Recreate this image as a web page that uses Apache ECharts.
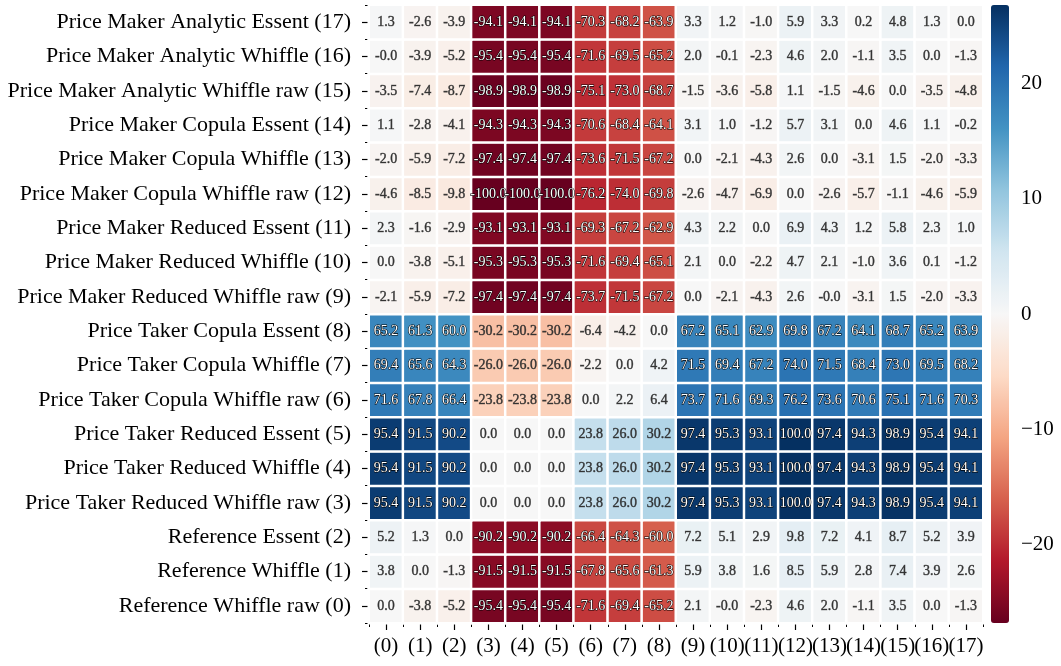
<!DOCTYPE html>
<html>
<head>
<meta charset="utf-8">
<script src="https://cdn.jsdelivr.net/npm/echarts@6/dist/echarts.min.js"></script>
<style>
  html, body { margin: 0; padding: 0; background: #ffffff; }
  #chart { width: 1061px; height: 666px; }
</style>
</head>
<body>
<div id="chart"></div>
<script>
// Column categories (scenario index)
const columnLabels = ['(0)', '(1)', '(2)', '(3)', '(4)', '(5)', '(6)', '(7)', '(8)',
  '(9)', '(10)', '(11)', '(12)', '(13)', '(14)', '(15)', '(16)', '(17)'];

// Row categories, bottom to top
const rowLabels = [
  'Reference Whiffle raw (0)',
  'Reference Whiffle (1)',
  'Reference Essent (2)',
  'Price Taker Reduced Whiffle raw (3)',
  'Price Taker Reduced Whiffle (4)',
  'Price Taker Reduced Essent (5)',
  'Price Taker Copula Whiffle raw (6)',
  'Price Taker Copula Whiffle (7)',
  'Price Taker Copula Essent (8)',
  'Price Maker Reduced Whiffle raw (9)',
  'Price Maker Reduced Whiffle (10)',
  'Price Maker Reduced Essent (11)',
  'Price Maker Copula Whiffle raw (12)',
  'Price Maker Copula Whiffle (13)',
  'Price Maker Copula Essent (14)',
  'Price Maker Analytic Whiffle raw (15)',
  'Price Maker Analytic Whiffle (16)',
  'Price Maker Analytic Essent (17)'
];

// Relative differences (%) per row, columns (0)..(17)
const referenceWhiffleRaw = [0.0, -3.8, -5.2, -95.4, -95.4, -95.4, -71.6, -69.4, -65.2, 2.1, -0.0, -2.3, 4.6, 2.0, -1.1, 3.5, 0.0, -1.3];
const referenceWhiffle = [3.8, 0.0, -1.3, -91.5, -91.5, -91.5, -67.8, -65.6, -61.3, 5.9, 3.8, 1.6, 8.5, 5.9, 2.8, 7.4, 3.9, 2.6];
const referenceEssent = [5.2, 1.3, 0.0, -90.2, -90.2, -90.2, -66.4, -64.3, -60.0, 7.2, 5.1, 2.9, 9.8, 7.2, 4.1, 8.7, 5.2, 3.9];
const takerReducedWhiffleRaw = [95.4, 91.5, 90.2, 0.0, 0.0, 0.0, 23.8, 26.0, 30.2, 97.4, 95.3, 93.1, 100.0, 97.4, 94.3, 98.9, 95.4, 94.1];
const takerReducedWhiffle = [95.4, 91.5, 90.2, 0.0, 0.0, 0.0, 23.8, 26.0, 30.2, 97.4, 95.3, 93.1, 100.0, 97.4, 94.3, 98.9, 95.4, 94.1];
const takerReducedEssent = [95.4, 91.5, 90.2, 0.0, 0.0, 0.0, 23.8, 26.0, 30.2, 97.4, 95.3, 93.1, 100.0, 97.4, 94.3, 98.9, 95.4, 94.1];
const takerCopulaWhiffleRaw = [71.6, 67.8, 66.4, -23.8, -23.8, -23.8, 0.0, 2.2, 6.4, 73.7, 71.6, 69.3, 76.2, 73.6, 70.6, 75.1, 71.6, 70.3];
const takerCopulaWhiffle = [69.4, 65.6, 64.3, -26.0, -26.0, -26.0, -2.2, 0.0, 4.2, 71.5, 69.4, 67.2, 74.0, 71.5, 68.4, 73.0, 69.5, 68.2];
const takerCopulaEssent = [65.2, 61.3, 60.0, -30.2, -30.2, -30.2, -6.4, -4.2, 0.0, 67.2, 65.1, 62.9, 69.8, 67.2, 64.1, 68.7, 65.2, 63.9];
const makerReducedWhiffleRaw = [-2.1, -5.9, -7.2, -97.4, -97.4, -97.4, -73.7, -71.5, -67.2, 0.0, -2.1, -4.3, 2.6, -0.0, -3.1, 1.5, -2.0, -3.3];
const makerReducedWhiffle = [0.0, -3.8, -5.1, -95.3, -95.3, -95.3, -71.6, -69.4, -65.1, 2.1, 0.0, -2.2, 4.7, 2.1, -1.0, 3.6, 0.1, -1.2];
const makerReducedEssent = [2.3, -1.6, -2.9, -93.1, -93.1, -93.1, -69.3, -67.2, -62.9, 4.3, 2.2, 0.0, 6.9, 4.3, 1.2, 5.8, 2.3, 1.0];
const makerCopulaWhiffleRaw = [-4.6, -8.5, -9.8, -100.0, -100.0, -100.0, -76.2, -74.0, -69.8, -2.6, -4.7, -6.9, 0.0, -2.6, -5.7, -1.1, -4.6, -5.9];
const makerCopulaWhiffle = [-2.0, -5.9, -7.2, -97.4, -97.4, -97.4, -73.6, -71.5, -67.2, 0.0, -2.1, -4.3, 2.6, 0.0, -3.1, 1.5, -2.0, -3.3];
const makerCopulaEssent = [1.1, -2.8, -4.1, -94.3, -94.3, -94.3, -70.6, -68.4, -64.1, 3.1, 1.0, -1.2, 5.7, 3.1, 0.0, 4.6, 1.1, -0.2];
const makerAnalyticWhiffleRaw = [-3.5, -7.4, -8.7, -98.9, -98.9, -98.9, -75.1, -73.0, -68.7, -1.5, -3.6, -5.8, 1.1, -1.5, -4.6, 0.0, -3.5, -4.8];
const makerAnalyticWhiffle = [-0.0, -3.9, -5.2, -95.4, -95.4, -95.4, -71.6, -69.5, -65.2, 2.0, -0.1, -2.3, 4.6, 2.0, -1.1, 3.5, 0.0, -1.3];
const makerAnalyticEssent = [1.3, -2.6, -3.9, -94.1, -94.1, -94.1, -70.3, -68.2, -63.9, 3.3, 1.2, -1.0, 5.9, 3.3, 0.2, 4.8, 1.3, 0.0];

const rowValues = [
  referenceWhiffleRaw, referenceWhiffle, referenceEssent,
  takerReducedWhiffleRaw, takerReducedWhiffle, takerReducedEssent,
  takerCopulaWhiffleRaw, takerCopulaWhiffle, takerCopulaEssent,
  makerReducedWhiffleRaw, makerReducedWhiffle, makerReducedEssent,
  makerCopulaWhiffleRaw, makerCopulaWhiffle, makerCopulaEssent,
  makerAnalyticWhiffleRaw, makerAnalyticWhiffle, makerAnalyticEssent
];

// Colour scale: cell values span -100..100, colorbar axis is labelled on its own scale
const cellLimit = 100;
const colorbarLimit = 26.8;
const colorbarTicks = [-20, -10, 0, 10, 20];

// Diverging red-blue palette (low -> high)
const rdBu = ['#67001f', '#b2182b', '#d6604d', '#f4a582', '#fddbc7', '#f7f7f7',
  '#d1e5f0', '#92c5de', '#4393c3', '#2166ac', '#053061'];

const FONT = '"Liberation Serif", "DejaVu Serif", serif';

function hexToRgb(h) {
  return [parseInt(h.slice(1, 3), 16), parseInt(h.slice(3, 5), 16), parseInt(h.slice(5, 7), 16)];
}
function colorAt(v) {
  let t = (v + cellLimit) / (2 * cellLimit);
  t = Math.max(0, Math.min(1, t));
  const pos = t * (rdBu.length - 1);
  const i = Math.min(rdBu.length - 2, Math.floor(pos));
  const f = pos - i;
  const a = hexToRgb(rdBu[i]), b = hexToRgb(rdBu[i + 1]);
  return a.map((c, k) => c + (b[k] - c) * f);
}
function luminance(rgb) {
  const lin = rgb.map(c => {
    c = c / 255;
    return c <= 0.03928 ? c / 12.92 : Math.pow((c + 0.055) / 1.055, 2.4);
  });
  return 0.2126 * lin[0] + 0.7152 * lin[1] + 0.0722 * lin[2];
}
function formatCell(v) {
  const neg = v < 0 || Object.is(v, -0);
  return (neg ? '-' : '') + Math.abs(v).toFixed(1);
}

const cells = [];
rowValues.forEach((row, r) => {
  row.forEach((v, c) => {
    const dark = luminance(colorAt(v)) <= 0.408;
    cells.push({
      value: [c, r, v],
      text: formatCell(v),
      label: dark
        ? { color: '#ffffff', textBorderColor: '#000000', textBorderWidth: 1.1 }
        : { color: '#333333', textBorderColor: 'rgba(0,0,0,0.6)', textBorderWidth: 0.5 }
    });
  });
});

const chart = echarts.init(document.getElementById('chart'), null, { renderer: 'canvas' });

const gridLeft = 369, gridTop = 5, gridWidth = 614, gridHeight = 618;

chart.setOption({
  animation: false,
  backgroundColor: '#ffffff',
  textStyle: { fontFamily: FONT },
  grid: [
    { left: gridLeft, top: gridTop, width: gridWidth, height: gridHeight, containLabel: false, outerBoundsMode: 'none' },
    { left: 991, top: gridTop, width: 18, height: gridHeight, containLabel: false, outerBoundsMode: 'none' }
  ],
  xAxis: [
    {
      type: 'category', gridIndex: 0, data: columnLabels, position: 'bottom',
      axisLine: { show: false },
      axisTick: { show: true, alignWithLabel: true, length: 7, lineStyle: { color: '#000', width: 1.2 } },
      axisLabel: { interval: 0, margin: 13, color: '#000', fontFamily: FONT, fontSize: 21 },
      splitLine: { show: false }
    },
    {
      type: 'category', gridIndex: 0, data: columnLabels, position: 'bottom',
      axisLine: { show: false },
      axisTick: { show: true, alignWithLabel: false, interval: 0, length: 4, lineStyle: { color: '#000', width: 1 } },
      axisLabel: { show: false },
      splitLine: { show: false }
    },
    {
      type: 'value', gridIndex: 1, show: false, min: 0, max: 1
    }
  ],
  yAxis: [
    {
      type: 'category', gridIndex: 0, data: rowLabels, position: 'left',
      axisLine: { show: false },
      axisTick: { show: true, alignWithLabel: true, length: 7, lineStyle: { color: '#000', width: 1.2 } },
      axisLabel: { interval: 0, margin: 18, color: '#000', fontFamily: FONT, fontSize: 22 },
      splitLine: { show: false }
    },
    {
      type: 'category', gridIndex: 0, data: rowLabels, position: 'left',
      axisLine: { show: false },
      axisTick: { show: true, alignWithLabel: false, interval: 0, length: 4, lineStyle: { color: '#000', width: 1 } },
      axisLabel: { show: false },
      splitLine: { show: false }
    },
    {
      type: 'value', gridIndex: 1, position: 'right',
      min: -colorbarLimit, max: colorbarLimit,
      axisLine: { show: false },
      splitLine: { show: false },
      axisTick: { show: true, length: 6, customValues: colorbarTicks, lineStyle: { color: '#000', width: 1.2 } },
      axisLabel: {
        customValues: colorbarTicks, margin: 12, color: '#000', fontFamily: FONT, fontSize: 21,
        formatter: v => (v < 0 ? '\u2212' + Math.abs(v) : String(v))
      }
    }
  ],
  visualMap: {
    type: 'continuous',
    seriesIndex: 0,
    dimension: 2,
    min: -cellLimit,
    max: cellLimit,
    calculable: false,
    show: true,
    orient: 'vertical',
    left: 991,
    top: gridTop,
    itemWidth: 18,
    itemHeight: gridHeight,
    padding: 0,
    text: null,
    hoverLink: false,
    inRange: { color: rdBu }
  },
  series: [{
    type: 'heatmap',
    xAxisIndex: 0,
    yAxisIndex: 0,
    data: cells,
    itemStyle: { borderColor: '#ffffff', borderWidth: 2.5 },
    emphasis: { disabled: true },
    label: {
      show: true,
      fontFamily: FONT,
      fontSize: 14,
      formatter: p => p.data.text
    }
  }]
});
</script>
</body>
</html>
